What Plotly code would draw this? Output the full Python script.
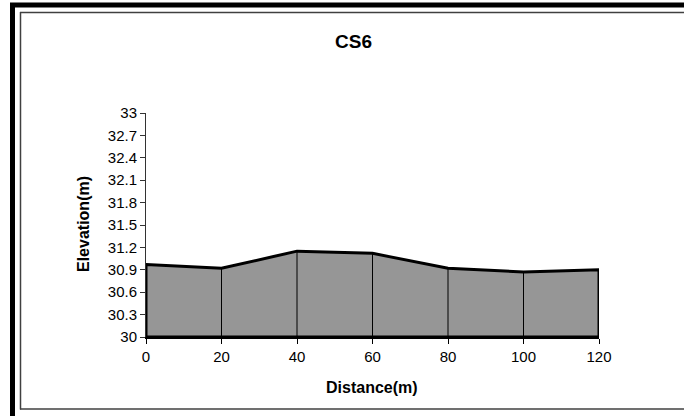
import plotly.graph_objects as go

# Data
distance = [0, 20, 40, 60, 80, 100, 120]
elevation = [30.97, 30.92, 31.15, 31.12, 30.92, 30.87, 30.90]
base_elev = 30.0
y_ticks = [30, 30.3, 30.6, 30.9, 31.2, 31.5, 31.8, 32.1, 32.4, 32.7, 33]
y_tick_labels = ["30", "30.3", "30.6", "30.9", "31.2", "31.5", "31.8", "32.1", "32.4", "32.7", "33"]
x_ticks = [0, 20, 40, 60, 80, 100, 120]
title_text = "CS6"
x_title = "Distance(m)"
y_title = "Elevation(m)"

W, H = 684, 416
L, R, T, B = 146, 85, 113, 79
FONT = "Arial, Liberation Sans, sans-serif"

fig = go.Figure()

# Filled cross-section polygon
poly_x = [distance[0]] + distance + [distance[-1], distance[0]]
poly_y = [base_elev] + elevation + [base_elev, base_elev]
fig.add_trace(go.Scatter(
    x=poly_x, y=poly_y, mode="lines", fill="toself",
    fillcolor="#969696", line=dict(color="black", width=3),
    hoverinfo="skip", showlegend=False))

# Drop lines at interior points
dx, dy = [], []
for xv, yv in zip(distance[1:-1], elevation[1:-1]):
    dx += [xv, xv, None]
    dy += [base_elev, yv, None]
fig.add_trace(go.Scatter(x=dx, y=dy, mode="lines",
                         line=dict(color="black", width=1),
                         hoverinfo="skip", showlegend=False))

pw = W - L - R
ph = H - T - B
def px_x(p):
    return (p - L) / pw
def px_y(p):
    return (H - B - p) / ph

def hline(x0, x1, y, color, width):
    return dict(type="line", xref="paper", yref="paper",
                x0=px_x(x0), x1=px_x(x1), y0=px_y(y), y1=px_y(y),
                line=dict(color=color, width=width), layer="above")

def vline(x, y0, y1, color, width):
    return dict(type="line", xref="paper", yref="paper",
                x0=px_x(x), x1=px_x(x), y0=px_y(y0), y1=px_y(y1),
                line=dict(color=color, width=width), layer="above")

shapes = [
    # outer thick black frame (top and left; right/bottom off-page)
    hline(10, W + 10, 5, "black", 5),
    vline(12.5, 3, H + 10, "black", 5),
    # inner thin frame (top, left, bottom)
    hline(20, W + 10, 12.5, "#404040", 1.5),
    vline(20.5, 12, 409.5, "#404040", 1.5),
    hline(20, W + 10, 409, "#404040", 1.5),
]

annotations = [
    dict(text=f"<b>{x_title}</b>", xref="paper", yref="paper",
         x=px_x(372), y=px_y(387), showarrow=False,
         font=dict(family=FONT, size=16, color="black"),
         xanchor="center", yanchor="middle"),
    dict(text=f"<b>{y_title}</b>", xref="paper", yref="paper",
         x=px_x(83), y=px_y(224), showarrow=False, textangle=-90,
         font=dict(family=FONT, size=16, color="black"),
         xanchor="center", yanchor="middle"),
    dict(text=f"<b>{title_text}</b>", xref="paper", yref="paper",
         x=px_x(353), y=px_y(41), showarrow=False,
         font=dict(family=FONT, size=19, color="black"),
         xanchor="center", yanchor="middle"),
]

fig.update_layout(
    width=W, height=H,
    margin=dict(l=L, r=R, t=T, b=B, pad=0),
    paper_bgcolor="white", plot_bgcolor="white",
    font=dict(family=FONT, size=15, color="black"),
    shapes=shapes, annotations=annotations,
    showlegend=False,
)
fig.update_xaxes(range=[0, 120], tickvals=x_ticks, ticks="outside", ticklen=5,
                 tickcolor="black", tickwidth=1, showgrid=False, zeroline=False,
                 showline=True, linecolor="black", linewidth=2,
                 tickfont=dict(family=FONT, size=15, color="black"))
fig.update_yaxes(range=[30, 33], tickvals=y_ticks, ticktext=y_tick_labels,
                 ticks="outside", ticklen=5, tickcolor="#333333", tickwidth=1,
                 showgrid=False, zeroline=False, showline=True,
                 linecolor="#333333", linewidth=1,
                 tickfont=dict(family=FONT, size=15, color="black"))

page_css = ("html,body{margin:0;padding:0;overflow:hidden;}"
            "::-webkit-scrollbar{display:none;width:0;height:0;}")
fig.write_html(
    "out.html", config={"displayModeBar": False},
    post_script=("var s=document.createElement('style');"
                 f"s.textContent='{page_css}';"
                 "document.head.appendChild(s);"
                 "document.documentElement.style.overflow='hidden';"
                 "document.body.style.margin='0';"
                 "document.body.style.overflow='hidden';"))
